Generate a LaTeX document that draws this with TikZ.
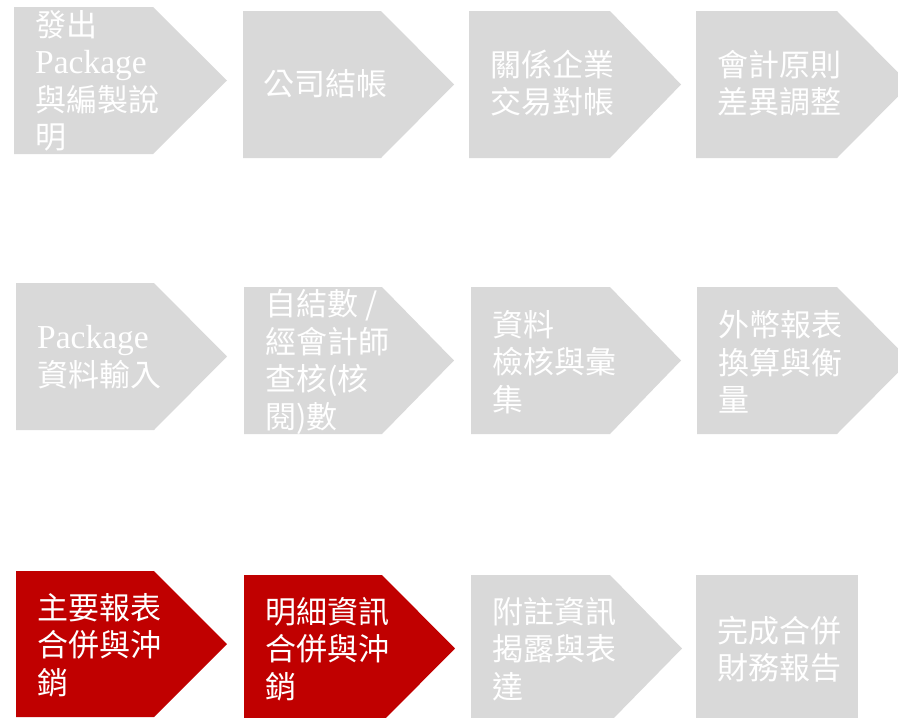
\documentclass[tikz,border=0pt]{standalone}
\usepackage{fontspec}
\setmainfont{Liberation Serif}
\newfontfamily\cjk{Noto Sans CJK TC}
\newfontfamily\latfont[Scale=1.08]{Liberation Serif}
\definecolor{boxgray}{HTML}{D9D9D9}
\definecolor{boxred}{HTML}{C00000}
\tikzset{
  steptext/.style={anchor=west, align=left, inner sep=0pt, text=white,
    font=\fontsize{31}{37.5}\selectfont\cjk},
}
% fill colour, left, top, rectangle end, tip, bottom
\newcommand\chevshape[6]{\fill[#1] (#2,#3) -- (#4,#3) -- (#5,{(#3+#6)/2}) -- (#4,#6) -- (#2,#6) -- cycle;}
\begin{document}
\begin{tikzpicture}[x=1pt,y=-1pt]
\useasboundingbox (0,0) rectangle (898,718);
% row 1
\chevshape{boxgray}{14}{7}{153}{227}{154}
\chevshape{boxgray}{243}{11}{381}{454}{158}
\chevshape{boxgray}{469}{11}{610}{681}{158}
\chevshape{boxgray}{696}{11}{837}{910}{158}
\node[steptext] (n1) at (35,81) {發出\\{\latfont Package}\\與編製說\\明};
\node[steptext] (n2) at (263,84) {公司結帳};
\node[steptext] (n3) at (490,83) {關係企業\\交易對帳};
\node[steptext] (n4) at (717,83) {會計原則\\差異調整};
% row 2
\chevshape{boxgray}{16}{283}{154}{227}{430}
\chevshape{boxgray}{244}{287}{382}{454}{434}
\chevshape{boxgray}{471}{287}{610}{681}{434}
\chevshape{boxgray}{697}{287}{837}{910}{434}
\node[steptext] (n5) at (37,357) {{\latfont Package}\\資料輸入};
\node[steptext] (n6) at (265,362) {自結數 /\\經會計師\\查核(核\\閱)數};
\node[steptext] (n7) at (492,362) {資料\\檢核與彙\\集};
\node[steptext] (n8) at (718,362) {外幣報表\\換算與衡\\量};
% row 3
\chevshape{boxred}{16}{571}{154}{227}{717}
\chevshape{boxred}{244}{575}{382}{455}{722}
\chevshape{boxgray}{471}{575}{610}{682}{722}
\fill[boxgray] (696,575) rectangle (858,722);
\node[steptext] (n9) at (37,645) {主要報表\\合併與沖\\銷};
\node[steptext] (n10) at (265,649) {明細資訊\\合併與沖\\銷};
\node[steptext] (n11) at (492,649) {附註資訊\\揭露與表\\達};
\node[steptext] (n12) at (717,649) {完成合併\\財務報告};
\end{tikzpicture}
\end{document}
